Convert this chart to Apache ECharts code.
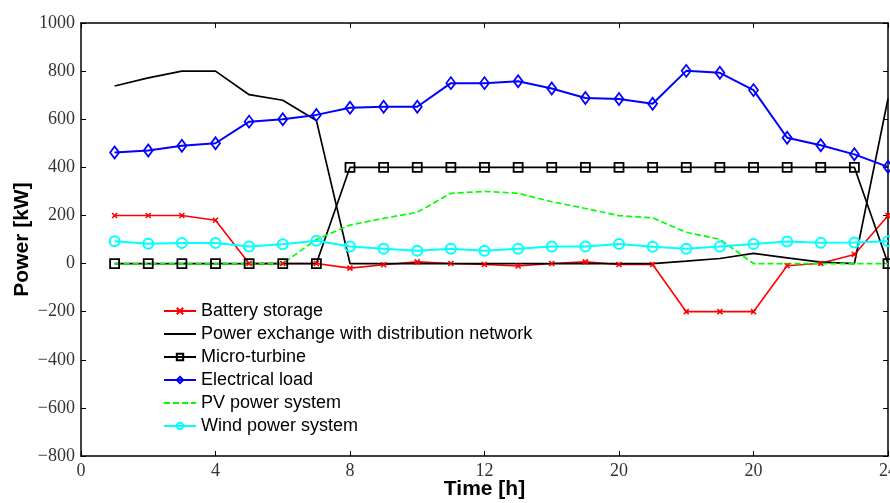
<!DOCTYPE html>
<html>
<head>
<meta charset="utf-8">
<script src="https://cdn.jsdelivr.net/npm/echarts@6/dist/echarts.min.js"></script>
<style>html,body{margin:0;padding:0;background:#fff}#c{width:890px;height:503px}</style>
</head>
<body>
<div id="c"></div>
<script>
const hours = [1,2,3,4,5,6,7,8,9,10,11,12,13,14,15,16,17,18,19,20,21,22,23,24];
const xTickLabels = {0:"0",4:"4",8:"8",12:"12",16:"20",20:"20",24:"24"};
const battery = [200,200,200,180,0,0,0,-19,-5,7,0,-4,-10,0,7,-4,-4,-200,-200,-200,-9,1,38,199];
const exchange = [738,772,800,800,702,679,595,0,0,0,0,0,0,0,0,0,0,10,21,42,24,6,0,685];
const microTurbine = [0,0,0,0,0,0,0,400,400,400,400,400,400,400,400,400,400,400,400,400,400,400,400,0];
const load = [462,470,490,500,590,600,618,648,652,652,750,750,758,728,688,684,664,801,793,721,523,492,454,402];
const pv = [0,0,0,0,0,0,100,160,188,213,292,300,292,257,229,199,190,130,101,0,0,0,0,0];
const wind = [93,82,85,85,71,80,95,71,62,53,62,53,62,71,71,81,70,62,71,81,92,86,88,93];
const names = ["Battery storage","Power exchange with distribution network","Micro-turbine","Electrical load","PV power system","Wind power system"];

const pairs = arr => hours.map((h,i)=>[h,arr[i]]);
const serif = "'Liberation Serif','Times New Roman',serif";
const sans = "'Liberation Sans',Arial,sans-serif";
const tick = {show:true,inside:true,length:5,lineStyle:{color:'#000',width:1}};
const axLine = {show:true,onZero:false,lineStyle:{color:'#000',width:1.5}};
const hidden = {color:'rgba(0,0,0,0)',borderColor:'rgba(0,0,0,0)',borderWidth:0};

const chart = echarts.init(document.getElementById('c'),null,{renderer:'canvas'});
chart.setOption({
  animation:false,
  backgroundColor:'#fff',
  grid:{left:81,right:2,top:23,bottom:47,containLabel:false,outerBoundsMode:'none'},
  legend:{
    orient:'vertical',left:163,top:302,padding:0,itemWidth:32,itemHeight:8,itemGap:5,
    textStyle:{fontFamily:sans,fontSize:18,color:'#000'},
    data:names
  },
  xAxis:[{
    type:'value',min:0,max:24,interval:4,
    name:'Time [h]',nameLocation:'middle',nameGap:23,nameMoveOverlap:false,
    nameTextStyle:{fontFamily:sans,fontSize:21,fontWeight:'bold',color:'#000'},
    axisLine:axLine,axisTick:tick,splitLine:{show:false},
    axisLabel:{fontFamily:serif,fontSize:18,color:'#333',margin:6,formatter:v=>xTickLabels[v]!==undefined?xTickLabels[v]:''}
  },{
    type:'value',min:0,max:24,interval:4,position:'top',
    axisLine:axLine,axisTick:tick,splitLine:{show:false},axisLabel:{show:false}
  }],
  yAxis:[{
    type:'value',min:-800,max:1000,interval:200,
    name:'Power [kW]',nameLocation:'middle',nameGap:48,nameMoveOverlap:false,
    nameTextStyle:{fontFamily:sans,fontSize:21,fontWeight:'bold',color:'#000'},
    axisLine:axLine,axisTick:tick,splitLine:{show:false},
    axisLabel:{fontFamily:serif,fontSize:18,color:'#333',margin:6,formatter:v=>String(v).replace('-','\u2212')}
  },{
    type:'value',min:-800,max:1000,interval:200,position:'right',
    axisLine:axLine,axisTick:tick,splitLine:{show:false},axisLabel:{show:false}
  }],
  series:[
    {name:names[0],type:'line',data:pairs(battery),
     symbol:'path://M0,0L10,10M10,0L0,10',symbolSize:5,showAllSymbol:true,
     lineStyle:{color:'#ff0000',width:1.6},
     itemStyle:{color:'#ff0000',borderColor:'#ff0000',borderWidth:1.6}},
    {name:names[1],type:'line',data:pairs(exchange),symbol:'none',
     lineStyle:{color:'#000',width:1.7},itemStyle:hidden},
    {name:names[2],type:'line',data:pairs(microTurbine),
     symbol:'rect',symbolSize:9,showAllSymbol:true,
     lineStyle:{color:'#000',width:1.7},
     itemStyle:{color:'rgba(0,0,0,0)',borderColor:'#000',borderWidth:1.8}},
    {name:names[3],type:'line',data:pairs(load),
     symbol:'diamond',symbolSize:[9,12],showAllSymbol:true,
     lineStyle:{color:'#0000ff',width:2},
     itemStyle:{color:'rgba(0,0,0,0)',borderColor:'#0000ff',borderWidth:1.8}},
    {name:names[4],type:'line',data:pairs(pv),symbol:'none',
     lineStyle:{color:'#00ff00',width:1.7,type:[6,3]},itemStyle:hidden},
    {name:names[5],type:'line',data:pairs(wind),
     symbol:'circle',symbolSize:10,showAllSymbol:true,
     lineStyle:{color:'#00ffff',width:2},
     itemStyle:{color:'rgba(0,0,0,0)',borderColor:'#00ffff',borderWidth:2}}
  ]
});
</script>
</body>
</html>
